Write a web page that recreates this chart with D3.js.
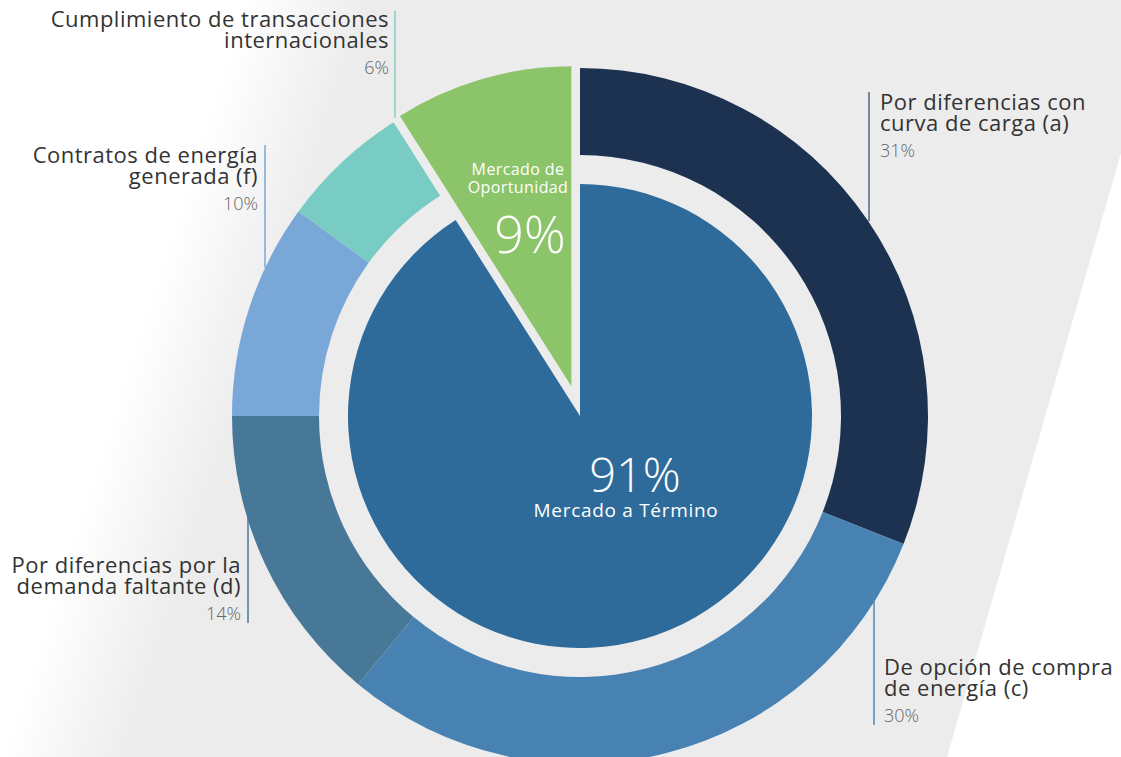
<!DOCTYPE html>
<html>
<head>
<meta charset="utf-8">
<script src="https://cdn.jsdelivr.net/npm/d3@7"></script>
<style>
  html, body { margin: 0; padding: 0; background: #fff; }
  svg { display: block; font-family: 'Open Sans', sans-serif; }
</style>
</head>
<body>
<div id="chart"></div>
<script>
// data
const categories = [
    'Por diferencias con curva de carga (a)',
    'De opción de compra de energía (c)',
    'Por diferencias por la demanda faltante (d)',
    'Contratos de energía generada (f)',
    'Cumplimiento de transacciones internacionales'
];
const labelLines = [
    ['Por diferencias con', 'curva de carga (a)'],
    ['De opción de compra', 'de energía (c)'],
    ['Por diferencias por la', 'demanda faltante (d)'],
    ['Contratos de energía', 'generada (f)'],
    ['Cumplimiento de transacciones', 'internacionales']
];
const values = [31, 30, 14, 10, 6];
const markets = ['Mercado a Término', 'Mercado de Oportunidad'];
const marketLines = ['Mercado de', 'Oportunidad'];
const marketValues = [91, 9];

const colors = ['#1d3150', '#4782b3', '#487898', '#78a7d8', '#78ccc4'];
const lineColors = ['#55657f', '#4f88b6', '#487898', '#78a7d8', '#86cfc8'];
const marketColors = ['#2e6b9a', '#8cc46a'];

// layout of the side labels: [line x, line top, line bottom, text x, first baseline, anchor]
const labelLayout = [
    [869, 92, 221, 880, 110, 'start'],
    [874, 592, 725, 884, 675, 'start'],
    [248, 513, 623, 241, 573, 'end'],
    [265, 145, 268, 258, 163, 'end'],
    [395, 11, 118, 389, 27, 'end']
];

const width = 1121, height = 757;
const cx = 580, cy = 416;
const rOuter = 348, rRingIn = 261, rPie = 232, rGreen = 320, explode = 31;

const svg = d3.select('#chart').append('svg')
    .attr('width', width)
    .attr('height', height);

// background band
const defs = svg.append('defs');
const grad = defs.append('linearGradient')
    .attr('id', 'bandGrad')
    .attr('gradientUnits', 'userSpaceOnUse')
    .attr('x1', 130).attr('y1', 360)
    .attr('x2', 245).attr('y2', 397);
grad.append('stop').attr('offset', '0%').attr('stop-color', '#ffffff');
grad.append('stop').attr('offset', '100%').attr('stop-color', '#ececec');

svg.append('rect').attr('width', width).attr('height', height).attr('fill', '#fff');
svg.append('path')
    .attr('d', 'M0,0 L1121,0 L1121,153 L947,757 L0,757 Z')
    .attr('fill', 'url(#bandGrad)');

const g = svg.append('g').attr('transform', `translate(${cx},${cy})`);

g.append('circle').attr('r', rRingIn + 2).attr('fill', '#ececec');

// outer ring
const pie = d3.pie().sort(null).value(d => d);
const ringArcs = pie(values.concat(marketValues[1]));
const ringArc = d3.arc().innerRadius(rRingIn).outerRadius(rOuter);

g.selectAll('.ring')
    .data(ringArcs.slice(0, values.length))
    .enter()
    .append('path')
    .attr('class', 'ring')
    .attr('d', ringArc)
    .attr('fill', (d, i) => colors[i]);

// inner pie
const marketArcs = pie(marketValues);
g.append('path')
    .attr('d', d3.arc().innerRadius(0).outerRadius(rPie)(marketArcs[0]))
    .attr('fill', marketColors[0]);

// exploded slice
const opp = marketArcs[1];
const mid = (opp.startAngle + opp.endAngle) / 2;
const ox = Math.sin(mid) * explode, oy = -Math.cos(mid) * explode;
const oppG = g.append('g').attr('transform', `translate(${ox},${oy})`);
oppG.append('path')
    .attr('d', d3.arc().innerRadius(0).outerRadius(rGreen)(opp))
    .attr('fill', marketColors[1]);

// center texts
svg.append('text')
    .attr('x', 635).attr('y', 492)
    .attr('text-anchor', 'middle')
    .attr('fill', '#fff')
    .style('font-size', '47px')
    .style('font-weight', 300)
    .text(marketValues[0] + '%');
svg.append('text')
    .attr('x', 626).attr('y', 517)
    .attr('text-anchor', 'middle')
    .attr('fill', '#fff')
    .style('font-size', '19px')
    .style('letter-spacing', '0.7px')
    .text(markets[0]);

svg.append('text')
    .attr('text-anchor', 'middle')
    .attr('fill', '#fff')
    .style('font-size', '16px')
    .style('letter-spacing', '0.4px')
    .selectAll('tspan')
    .data(marketLines)
    .enter()
    .append('tspan')
    .attr('x', 518)
    .attr('y', (d, i) => 175 + i * 18)
    .text(d => d);
svg.append('text')
    .attr('x', 530).attr('y', 253)
    .attr('text-anchor', 'middle')
    .attr('fill', '#fff')
    .style('font-size', '52px')
    .style('font-weight', 300)
    .text(marketValues[1] + '%');

// side labels
labelLayout.forEach((l, i) => {
    const [lx, y0, y1, tx, ty, anchor] = l;
    svg.append('line')
        .attr('x1', lx).attr('x2', lx)
        .attr('y1', y0).attr('y2', y1)
        .attr('stroke', lineColors[i])
        .attr('stroke-width', 1.5);
    const t = svg.append('text')
        .attr('text-anchor', anchor)
        .attr('fill', '#333')
        .style('font-size', '22px')
        .style('letter-spacing', '0.5px');
    labelLines[i].forEach((s, j) => {
        t.append('tspan').attr('x', tx).attr('y', ty + j * 21).text(s);
    });
    svg.append('text')
        .attr('x', tx).attr('y', ty + 47)
        .attr('text-anchor', anchor)
        .attr('fill', '#666')
        .style('font-size', '18px')
        .style('font-weight', 300)
        .text(values[i] + '%');
});
</script>
</body>
</html>
